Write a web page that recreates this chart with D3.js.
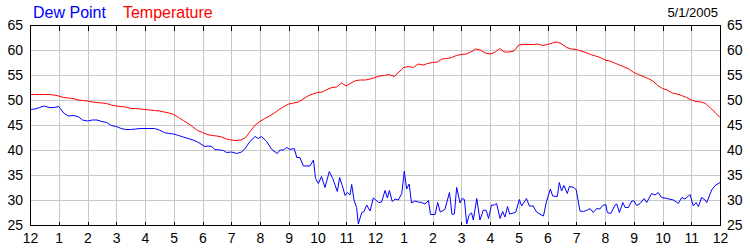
<!DOCTYPE html>
<html>
<head>
<meta charset="utf-8">
<script src="https://cdn.jsdelivr.net/npm/d3@7"></script>
<style>
  body { margin: 0; background: #fff; }
  svg { display: block; font-family: Arial, "Liberation Sans", sans-serif; }
</style>
</head>
<body>
<svg id="chart" width="750" height="250"></svg>
<script>
// hour labels along the bottom, midnight to midnight
const hourLabels = ["12","1","2","3","4","5","6","7","8","9","10","11",
                    "12","1","2","3","4","5","6","7","8","9","10","11","12"];
const tempTicks = [25, 30, 35, 40, 45, 50, 55, 60, 65];
const chartDate = "5/1/2005";

// temperature, one reading every 10 minutes from 0:00 to 24:00
const temperature = [
  51.1, 51.1, 51.1, 51.1, 51.1, 51.0, 50.8, 50.5, 50.4, 50.3, 50.0, 49.9,
  49.8, 49.6, 49.5, 49.4, 49.3, 49.0, 48.8, 48.7, 48.6, 48.3, 48.3, 48.2,
  48.1, 48.0, 47.9, 47.8, 47.6, 47.4, 47.1, 46.5, 45.9, 45.3, 44.6, 43.9,
  43.5, 43.1, 42.9, 42.8, 42.6, 42.2, 42.0, 41.9, 42.0, 42.5, 43.8, 45.0,
  45.7, 46.3, 46.8, 47.4, 48.1, 48.7, 49.2, 49.4, 49.6, 50.2, 50.8, 51.2,
  51.5, 51.6, 52.1, 52.5, 52.6, 53.4, 52.8, 53.4, 53.9, 54.0, 54.0, 54.2,
  54.5, 54.8, 54.9, 55.1, 54.7, 55.6, 56.5, 56.7, 56.5, 57.2, 57.0, 57.3,
  57.5, 57.6, 58.2, 58.3, 58.5, 58.9, 59.1, 59.2, 59.6, 60.2, 60.0, 59.4,
  59.2, 59.5, 60.3, 59.6, 59.6, 59.8, 61.0, 61.1, 61.1, 61.1, 61.2, 60.9,
  61.1, 61.4, 61.6, 61.2, 60.5, 60.2, 60.1, 59.8, 59.5, 59.1, 58.8, 58.5,
  58.0, 57.8, 57.4, 57.0, 56.6, 56.2, 55.5, 55.1, 54.7, 54.3, 53.8, 52.9,
  52.3, 52.0, 51.4, 51.2, 50.9, 50.5, 50.0, 49.7, 49.6, 49.3, 48.4, 47.5,
  46.5
];
const tempHours = temperature.map((d, i) => i / 6);

// dew point readings: [hour, degrees]
const dewPoint = [
  [0,48.1],[0.17,48.2],[0.33,48.5],[0.5,48.8],[0.67,48.5],[0.83,48.5],
  [1,48.7],[1.17,47.4],[1.33,46.8],[1.5,46.9],[1.67,46.7],[1.83,46.0],
  [2,45.8],[2.17,46.0],[2.33,46.0],[2.5,45.7],[2.67,45.5],[2.83,44.9],
  [3,44.7],[3.17,44.3],[3.33,44.1],[3.5,44.1],[3.67,44.2],[3.83,44.3],
  [4,44.3],[4.17,44.3],[4.33,44.3],[4.5,44.0],[4.67,43.5],[4.83,43.3],
  [5,43.2],[5.17,42.9],[5.33,42.6],[5.5,42.3],[5.67,42.0],[5.83,41.6],
  [6,41.0],[6.09,40.7],[6.20,40.8],[6.32,40.7],[6.43,40.1],[6.61,40.0],
  [6.73,39.9],[6.84,39.5],[7.01,39.6],[7.19,39.3],[7.36,39.6],[7.48,40.3],
  [7.65,41.7],[7.83,42.7],[7.94,42.3],[8.06,42.7],[8.23,41.7],[8.41,40.1],
  [8.60,39.3],[8.70,40.0],[8.81,40.0],[8.93,40.5],[9.04,40.1],[9.19,40.3],
  [9.28,38.5],[9.39,38.5],[9.51,36.8],[9.74,36.8],[9.86,38.0],[9.93,34.3],
  [10.03,33.3],[10.14,34.7],[10.26,32.5],[10.41,35.7],[10.53,34.3],[10.69,31.7],
  [10.77,34.5],[10.86,32.9],[10.96,30.9],[11.04,31.5],[11.13,31.0],[11.19,33.1],
  [11.27,30.0],[11.36,28.5],[11.42,25.2],[11.54,27.5],[11.62,27.7],[11.71,29.0],
  [11.83,27.8],[11.94,30.4],[12.03,30.0],[12.12,29.5],[12.23,29.6],[12.35,31.9],
  [12.43,30.4],[12.50,31.9],[12.60,29.7],[12.70,30.2],[12.81,30.0],[12.93,31.3],
  [13.02,35.8],[13.10,32.2],[13.19,33.2],[13.27,29.4],[13.39,29.8],[13.50,29.6],
  [13.62,29.5],[13.74,29.2],[13.86,29.9],[13.93,27.1],[14.09,27.1],[14.18,29.5],
  [14.27,27.6],[14.43,28.1],[14.59,31.5],[14.68,27.1],[14.76,27.2],[14.84,32.5],
  [14.96,29.4],[15.03,30.3],[15.11,30.1],[15.19,25.2],[15.28,27.1],[15.36,27.4],
  [15.42,26.0],[15.54,30.3],[15.65,26.0],[15.77,28.0],[15.87,27.9],[15.95,26.3],
  [16.05,29.0],[16.15,29.0],[16.23,29.3],[16.35,26.3],[16.44,27.7],[16.52,26.6],
  [16.61,28.7],[16.68,27.2],[16.82,27.4],[16.90,27.6],[17.02,30.1],[17.10,28.8],
  [17.27,30.3],[17.37,28.8],[17.50,28.8],[17.62,27.6],[17.70,27.3],[17.86,26.8],
  [17.96,29.6],[18.10,32.2],[18.18,30.8],[18.34,30.7],[18.41,33.5],[18.49,31.8],
  [18.57,32.9],[18.69,31.3],[18.76,32.7],[18.92,32.5],[19.00,32.0],[19.13,27.8],
  [19.25,27.7],[19.39,28.0],[19.48,28.3],[19.59,27.5],[19.71,28.3],[19.82,28.2],
  [19.92,28.9],[20.03,29.1],[20.08,27.5],[20.20,27.3],[20.35,29.0],[20.41,29.2],
  [20.50,27.5],[20.62,29.5],[20.70,28.5],[20.81,28.5],[20.93,29.8],[21.01,29.8],
  [21.10,28.9],[21.22,29.3],[21.36,30.3],[21.45,29.5],[21.62,31.3],[21.74,31.0],
  [21.85,31.5],[21.97,30.5],[22.15,30.3],[22.38,30.0],[22.55,29.3],[22.67,30.5],
  [22.78,30.2],[22.96,31.1],[23.07,28.8],[23.17,29.5],[23.25,28.7],[23.36,30.5],
  [23.48,30.0],[23.54,29.5],[23.71,32.0],[23.83,32.9],[24.00,33.5]
];

const margin = {top: 25, right: 30, bottom: 25, left: 30};
const svg = d3.select("#chart");
const width = 750 - margin.left - margin.right;
const height = 250 - margin.top - margin.bottom;

const x = d3.scaleLinear().domain([0, 24]).range([0, width]);
const y = d3.scaleLinear().domain([25, 65]).range([height, 0]);

const g = svg.append("g")
    .attr("transform", `translate(${margin.left},${margin.top})`);

// grid
g.append("g")
    .attr("class", "grid")
    .attr("transform", `translate(0,${height})`)
    .call(d3.axisBottom(x).tickValues(d3.range(1, 24)).tickSize(-height).tickFormat(""))
    .call(a => a.select(".domain").remove());
g.append("g")
    .attr("class", "grid")
    .call(d3.axisLeft(y).tickValues(tempTicks.slice(1, -1)).tickSize(-width).tickFormat(""))
    .call(a => a.select(".domain").remove());
g.selectAll(".grid line")
    .attr("stroke", "#c8c8c8")
    .attr("shape-rendering", "crispEdges");

g.append("clipPath").attr("id", "plot")
  .append("rect").attr("width", width).attr("height", height + 1);

const line = d3.line()
    .x(d => x(d[0]))
    .y(d => y(d[1]));

g.append("path")
    .datum(tempHours.map((h, i) => [h, temperature[i]]))
    .attr("clip-path", "url(#plot)")
    .attr("fill", "none")
    .attr("stroke", "#ff0000")
    .attr("stroke-width", 1)
    .attr("d", line);

g.append("path")
    .datum(dewPoint)
    .attr("clip-path", "url(#plot)")
    .attr("fill", "none")
    .attr("stroke", "#0000ff")
    .attr("stroke-width", 1)
    .attr("d", line);

// frame
g.append("rect")
    .attr("x", 0.5).attr("y", 0.5)
    .attr("width", width).attr("height", height)
    .attr("fill", "none")
    .attr("stroke", "#000");

// axes
g.append("g")
    .attr("transform", `translate(0,${height + 0.5})`)
    .call(d3.axisBottom(x).tickValues(d3.range(0, 25)).tickSizeInner(-4).tickSizeOuter(0)
        .tickPadding(8).tickFormat(i => hourLabels[i]));
g.append("g")
    .attr("transform", "translate(0,0.5)")
    .call(d3.axisTop(x).tickValues(d3.range(1, 24)).tickSizeInner(-5).tickSizeOuter(0).tickFormat(""));
g.append("g")
    .call(d3.axisLeft(y).tickValues(tempTicks).tickSize(0).tickPadding(7));
g.append("g")
    .attr("transform", `translate(${width},0)`)
    .call(d3.axisRight(y).tickValues(tempTicks).tickSize(0).tickPadding(7));

svg.selectAll(".domain").remove();
svg.selectAll(".tick text")
    .attr("font-size", 14)
    .attr("font-family", "Arial, 'Liberation Sans', sans-serif")
    .attr("fill", "#000");
svg.selectAll(".tick line").attr("shape-rendering", "crispEdges");

// title line
const title = svg.append("text")
    .attr("x", 33).attr("y", 18)
    .attr("font-size", 16);
title.append("tspan").attr("fill", "#0000ff").text("Dew Point");
title.append("tspan").attr("fill", "#ff0000").attr("dx", 17).text("Temperature");

svg.append("text")
    .attr("x", 718).attr("y", 17)
    .attr("text-anchor", "end")
    .attr("font-size", 13)
    .attr("fill", "#000")
    .text(chartDate);
</script>
</body>
</html>
